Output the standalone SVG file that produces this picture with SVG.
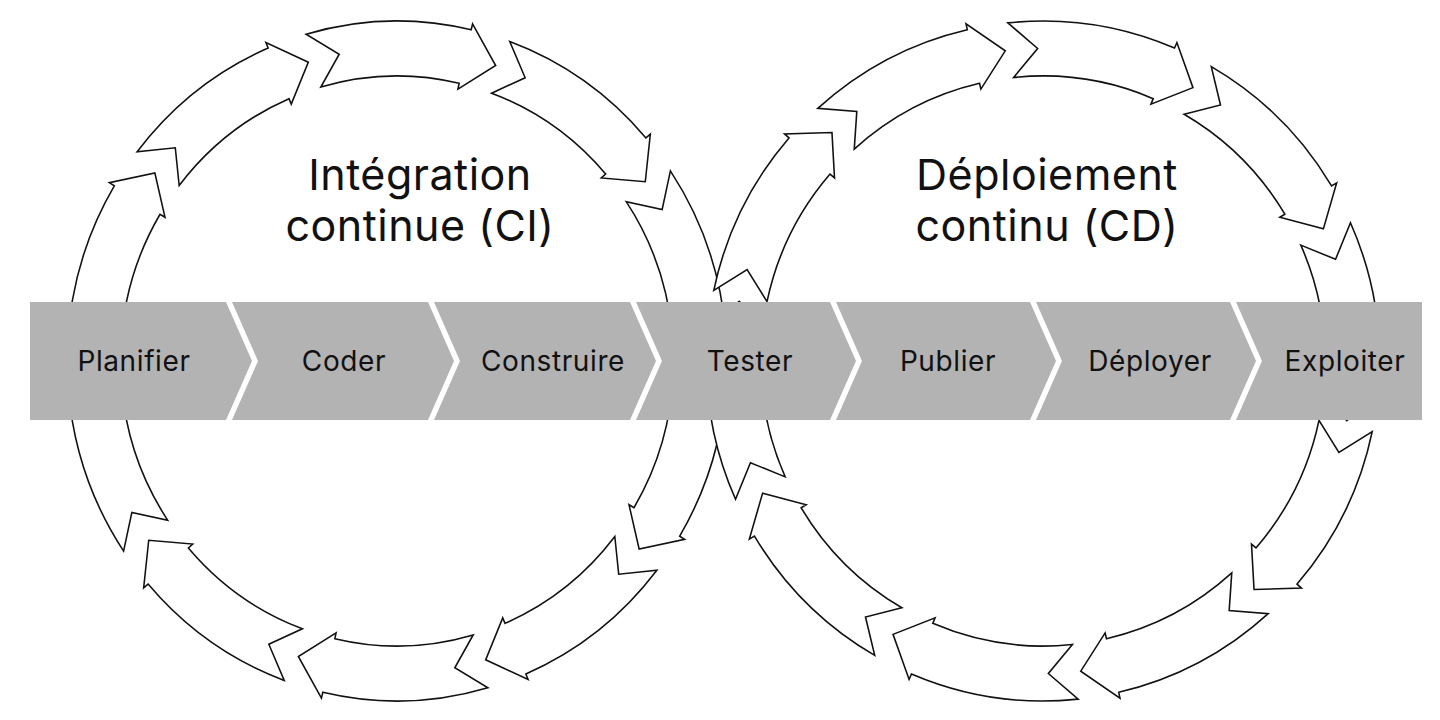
<svg xmlns="http://www.w3.org/2000/svg" xmlns:xlink="http://www.w3.org/1999/xlink" width="1440" height="720" viewBox="0 0 1440 720">
<style>
.seg{fill:#fff;stroke:#111;stroke-width:1.6;stroke-linejoin:miter}
.chev{fill:#b3b3b3}
.lbl{font-family:Inter,"Open Sans",sans-serif;font-size:28px;letter-spacing:0.6px;fill:#111;text-anchor:middle}
.ttl{font-family:Inter,"Open Sans",sans-serif;font-size:43px;letter-spacing:0.5px;fill:#111;text-anchor:middle}
</style>
<defs>
<path id="arw" d="M-93.7 -326.8 A340 340 0 0 1 76.5 -331.3 L77.9 -337.1 L101.7 -295.5 L62.8 -271.9 L64.1 -277.7 A285 285 0 0 0 -78.5 -274 L-59.6 -306.8 Z"/>
</defs>
<rect width="1440" height="720" fill="#fff"/>
<g id="ring-ci" transform="translate(397 361) scale(0.97 1)">
<use href="#arw" class="seg" transform="rotate(0)"/><use href="#arw" class="seg" transform="rotate(36)"/><use href="#arw" class="seg" transform="rotate(72)"/><use href="#arw" class="seg" transform="rotate(108)"/><use href="#arw" class="seg" transform="rotate(144)"/><use href="#arw" class="seg" transform="rotate(180)"/><use href="#arw" class="seg" transform="rotate(216)"/><use href="#arw" class="seg" transform="rotate(252)"/><use href="#arw" class="seg" transform="rotate(288)"/><use href="#arw" class="seg" transform="rotate(324)"/>
</g>
<g id="ring-cd" transform="translate(1043 361) scale(0.99 1)">
<use href="#arw" class="seg" transform="rotate(10)"/><use href="#arw" class="seg" transform="rotate(46)"/><use href="#arw" class="seg" transform="rotate(82)"/><use href="#arw" class="seg" transform="rotate(118)"/><use href="#arw" class="seg" transform="rotate(154)"/><use href="#arw" class="seg" transform="rotate(190)"/><use href="#arw" class="seg" transform="rotate(226)"/><use href="#arw" class="seg" transform="rotate(262)"/><use href="#arw" class="seg" transform="rotate(298)"/><use href="#arw" class="seg" transform="rotate(334)"/>
</g>
<g id="titles">
<text class="ttl" x="420" y="190">Intégration</text>
<text class="ttl" x="420" y="241">continue (CI)</text>
<text class="ttl" x="1047" y="190">Déploiement</text>
<text class="ttl" x="1047" y="241">continu (CD)</text>
</g>
<g id="planifier"><path class="chev" d="M30 302 H226 L252 361 L226 420 H30 Z"/><text class="lbl" x="134" y="371">Planifier</text></g>
<g id="coder"><path class="chev" d="M232 302 H428 L454 361 L428 420 H232 L258 361 Z"/><text class="lbl" x="344" y="371">Coder</text></g>
<g id="construire"><path class="chev" d="M434 302 H630 L656 361 L630 420 H434 L460 361 Z"/><text class="lbl" x="553" y="371">Construire</text></g>
<g id="tester"><path class="chev" d="M636 302 H830 L856 361 L830 420 H636 L662 361 Z"/><text class="lbl" x="750" y="371">Tester</text></g>
<g id="publier"><path class="chev" d="M836 302 H1030 L1056 361 L1030 420 H836 L862 361 Z"/><text class="lbl" x="948" y="371">Publier</text></g>
<g id="deployer"><path class="chev" d="M1036 302 H1230 L1256 361 L1230 420 H1036 L1062 361 Z"/><text class="lbl" x="1150" y="371">Déployer</text></g>
<g id="exploiter"><path class="chev" d="M1236 302 H1422 V420 H1236 L1262 361 Z"/><text class="lbl" x="1345" y="371">Exploiter</text></g>
<g id="connectors"/>
</svg>
